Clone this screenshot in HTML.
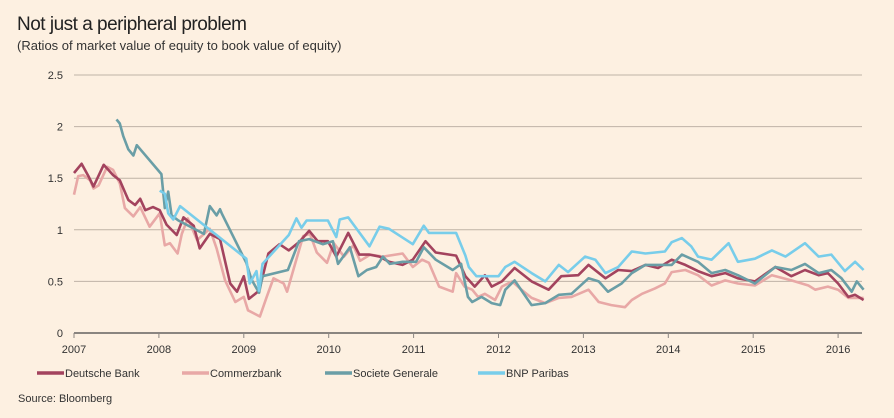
<!DOCTYPE html>
<html><head><meta charset="utf-8">
<style>
body{margin:0;background:#fdf0e1;width:894px;height:418px;overflow:hidden;font-family:"Liberation Sans",sans-serif;}
svg{position:absolute;left:0;top:0;}
</style></head>
<body>
<svg id="chart" width="894" height="418" xmlns="http://www.w3.org/2000/svg">
<text x="17" y="30" font-size="19" fill="#222" font-family="Liberation Sans, sans-serif" letter-spacing="-0.5">Not just a peripheral problem</text>
<text x="17" y="50" font-size="13" fill="#333" font-family="Liberation Sans, sans-serif">(Ratios of market value of equity to book value of equity)</text>
<g id="grid"></g><g id="series"></g><g id="axes"></g><g id="legend"></g>
<text x="18" y="402" font-size="11" fill="#333">Source: Bloomberg</text>
</svg>
<script>
const yTicks=[0,0.5,1,1.5,2,2.5];
const yTickLabels=["0","0.5","1","1.5","2","2.5"];
const xTicks=[2007,2008,2009,2010,2011,2012,2013,2014,2015,2016];
const seriesNames=["Deutsche Bank","Commerzbank","Societe Generale","BNP Paribas"];
const deutscheDates=[2007.0,2007.09,2007.17,2007.23,2007.35,2007.46,2007.54,2007.64,2007.72,2007.78,2007.84,2007.93,2008.01,2008.09,2008.21,2008.29,2008.41,2008.48,2008.6,2008.72,2008.84,2008.92,2009.0,2009.06,2009.18,2009.29,2009.42,2009.53,2009.65,2009.77,2009.87,2009.99,2010.09,2010.23,2010.36,2010.48,2010.6,2010.71,2010.87,2010.99,2011.14,2011.26,2011.5,2011.61,2011.72,2011.84,2011.92,2012.04,2012.19,2012.39,2012.59,2012.74,2012.94,2013.06,2013.26,2013.41,2013.57,2013.73,2013.88,2014.04,2014.2,2014.35,2014.51,2014.67,2014.82,2015.02,2015.26,2015.45,2015.61,2015.77,2015.88,2016.0,2016.12,2016.2,2016.3];
const deutscheValues=[1.55,1.64,1.52,1.42,1.63,1.53,1.48,1.29,1.24,1.30,1.19,1.22,1.19,1.05,0.95,1.12,1.04,0.82,0.96,0.91,0.48,0.40,0.55,0.33,0.41,0.77,0.86,0.80,0.88,0.99,0.89,0.89,0.74,0.97,0.76,0.76,0.74,0.69,0.66,0.71,0.89,0.78,0.75,0.55,0.45,0.56,0.45,0.50,0.63,0.50,0.42,0.55,0.56,0.66,0.53,0.61,0.60,0.66,0.63,0.71,0.66,0.60,0.55,0.58,0.53,0.50,0.64,0.55,0.61,0.56,0.58,0.48,0.35,0.37,0.32];
const commerzDates=[2007.0,2007.05,2007.11,2007.19,2007.23,2007.29,2007.39,2007.46,2007.54,2007.6,2007.7,2007.78,2007.89,2008.01,2008.07,2008.13,2008.22,2008.27,2008.34,2008.45,2008.6,2008.68,2008.78,2008.9,2009.0,2009.05,2009.19,2009.27,2009.35,2009.47,2009.51,2009.59,2009.7,2009.78,2009.86,2009.98,2010.06,2010.18,2010.29,2010.37,2010.49,2010.64,2010.87,2010.99,2011.1,2011.18,2011.3,2011.46,2011.5,2011.6,2011.69,2011.76,2011.84,2011.96,2012.04,2012.16,2012.27,2012.39,2012.55,2012.71,2012.86,2013.06,2013.18,2013.33,2013.49,2013.57,2013.69,2013.84,2013.96,2014.04,2014.2,2014.35,2014.51,2014.67,2014.82,2015.02,2015.22,2015.45,2015.65,2015.73,2015.88,2016.0,2016.12,2016.3];
const commerzValues=[1.34,1.52,1.53,1.48,1.40,1.43,1.61,1.58,1.45,1.21,1.13,1.22,1.03,1.16,0.85,0.87,0.77,0.96,1.11,0.90,1.01,0.82,0.51,0.30,0.35,0.22,0.16,0.35,0.53,0.48,0.40,0.63,0.94,0.96,0.78,0.68,0.87,0.74,0.85,0.70,0.76,0.74,0.77,0.64,0.71,0.68,0.45,0.40,0.58,0.45,0.42,0.35,0.38,0.32,0.45,0.50,0.42,0.34,0.29,0.34,0.35,0.42,0.30,0.27,0.25,0.32,0.38,0.43,0.48,0.59,0.61,0.56,0.46,0.51,0.48,0.46,0.56,0.51,0.46,0.42,0.45,0.42,0.34,0.34];
const socgenDates=[2007.5,2007.54,2007.58,2007.64,2007.7,2007.74,2008.03,2008.07,2008.11,2008.15,2008.23,2008.53,2008.6,2008.68,2008.72,2008.74,2009.03,2009.09,2009.18,2009.22,2009.52,2009.65,2009.77,2009.93,2010.05,2010.11,2010.25,2010.35,2010.45,2010.56,2010.64,2010.72,2010.87,2011.03,2011.12,2011.26,2011.46,2011.56,2011.64,2011.69,2011.8,2011.92,2012.02,2012.08,2012.19,2012.39,2012.55,2012.71,2012.86,2013.06,2013.18,2013.29,2013.45,2013.57,2013.73,2013.88,2014.04,2014.16,2014.35,2014.51,2014.67,2014.82,2015.02,2015.26,2015.45,2015.61,2015.77,2015.92,2016.04,2016.16,2016.22,2016.3];
const socgenValues=[2.07,2.03,1.91,1.78,1.72,1.82,1.54,1.21,1.37,1.14,1.09,0.96,1.23,1.14,1.20,1.16,0.68,0.52,0.39,0.55,0.61,0.89,0.91,0.86,0.89,0.67,0.83,0.55,0.61,0.64,0.74,0.67,0.69,0.69,0.83,0.71,0.61,0.67,0.35,0.30,0.35,0.29,0.27,0.42,0.51,0.27,0.29,0.37,0.38,0.53,0.50,0.40,0.48,0.58,0.66,0.66,0.66,0.76,0.69,0.58,0.61,0.56,0.48,0.64,0.61,0.67,0.58,0.61,0.53,0.40,0.50,0.42];
const bnpDates=[2008.01,2008.07,2008.11,2008.17,2008.25,2009.03,2009.07,2009.15,2009.18,2009.22,2009.53,2009.62,2009.68,2009.74,2009.99,2010.09,2010.13,2010.23,2010.48,2010.6,2010.71,2010.99,2011.12,2011.18,2011.5,2011.61,2011.65,2011.74,2012.0,2012.08,2012.19,2012.39,2012.55,2012.71,2012.82,2013.02,2013.14,2013.26,2013.41,2013.57,2013.73,2013.96,2014.04,2014.16,2014.27,2014.35,2014.51,2014.71,2014.82,2015.02,2015.22,2015.38,2015.61,2015.77,2015.92,2016.08,2016.2,2016.3];
const bnpValues=[1.38,1.35,1.16,1.10,1.23,0.72,0.48,0.60,0.41,0.67,0.95,1.11,1.02,1.09,1.09,0.93,1.10,1.12,0.84,1.03,1.01,0.86,1.04,0.97,0.97,0.75,0.64,0.55,0.55,0.64,0.69,0.58,0.50,0.66,0.59,0.74,0.71,0.58,0.64,0.79,0.77,0.79,0.88,0.92,0.84,0.74,0.71,0.87,0.69,0.72,0.80,0.74,0.87,0.74,0.76,0.60,0.69,0.61];

const NS="http://www.w3.org/2000/svg";
const X0=74,PXY=84.9,Y0=333,PXV=103.2,XEND=862;
function xs(t){return X0+(t-2007)*PXY;}
function ys(v){return Y0-v*PXV;}
function mk(tag,attrs,parent){const e=document.createElementNS(NS,tag);for(const k in attrs)e.setAttribute(k,attrs[k]);parent.appendChild(e);return e;}
const grid=document.getElementById('grid'),axes=document.getElementById('axes'),ser=document.getElementById('series'),leg=document.getElementById('legend');
yTicks.forEach((v,i)=>{
  if(v>0){const l=mk('line',{x1:X0,x2:XEND,y1:ys(v),y2:ys(v),stroke:'#bfb3a6','stroke-width':1},grid);
  
  }
  const t=mk('text',{x:63,y:ys(v)+4,'text-anchor':'end','font-size':11,fill:'#333'},axes);
  t.textContent=yTickLabels[i];
  
  
});
const ax=mk('line',{x1:X0,x2:XEND,y1:Y0,y2:Y0,stroke:'#8a8580','stroke-width':2},axes);


xTicks.forEach(yr=>{
  const tk=mk('line',{x1:xs(yr),x2:xs(yr),y1:Y0,y2:Y0+5,stroke:'#8a8580','stroke-width':1},axes);
  
  
  const t=mk('text',{x:xs(yr),y:Y0+20,'text-anchor':'middle','font-size':11,fill:'#333'},axes);
  t.textContent=String(yr);
  
  
});
const colors=['#a3435e','#e8a8a6','#6a9ea6','#78cdea'];
const allD=[deutscheDates,commerzDates,socgenDates,bnpDates];
const allV=[deutscheValues,commerzValues,socgenValues,bnpValues];
const slugs=['deutsche-bank','commerzbank','societe-generale','bnp-paribas'];
[1,0,2,3].forEach(i=>{
  const d=allD[i].map((t,j)=>(j?'L':'M')+xs(t).toFixed(1)+','+ys(allV[i][j]).toFixed(1)).join('');
  const p=mk('path',{d:d,fill:'none',stroke:colors[i],'stroke-width':2.6,'stroke-linejoin':'round'},ser);
  
  
});
const legX=[37,182,325,478];
seriesNames.forEach((n,i)=>{
  const g=mk('g',{},leg);
  
  
  mk('line',{x1:legX[i],x2:legX[i]+27,y1:373,y2:373,stroke:colors[i],'stroke-width':3.5},g);
  const t=mk('text',{x:legX[i]+28,y:377,'font-size':11,fill:'#333'},g);
  t.textContent=n;
});
</script>
</body></html>
